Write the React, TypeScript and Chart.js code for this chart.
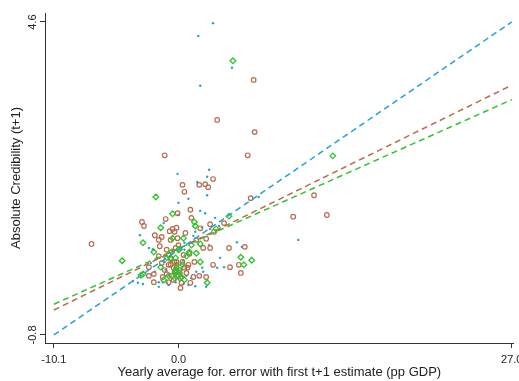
import React, { useEffect, useRef } from "react";
import { Chart, registerables } from "chart.js";

Chart.register(...registerables);

// Series 1: small blue dots
const blueX = [2.80, 1.60, 4.33, 1.76, -0.08, 2.48, 2.32, 1.52, 2.32, 0.80, 0.00, 1.76, 2.16, 0.00, -1.20, 6.49, 9.70, 4.73, 5.13, -3.13, -2.40, -2.08, -1.76, -1.92, -1.60, -1.28, -3.29, -3.69, -0.24, -2.24, 2.96, 2.56, 3.29, 1.36, 1.20, 2.48, 3.37, 3.69, 0.40, 1.92, 2.00, 1.44, 1.36, 3.13, -2.88, -0.96, 1.92, 3.04, -0.64, 0.24, 0.64, -0.40, 0.80, -1.04, 2.24, 0.48, -0.80, 0.40, -1.60, 1.04, -1.12, 0.48];
const blueY = [4.58, 4.36, 3.81, 3.50, 1.98, 2.05, 1.93, 1.84, 1.61, 1.55, 1.48, 1.34, 1.30, 1.27, 1.13, 1.58, 0.84, 0.80, 0.72, 0.92, 0.70, 0.68, 0.53, 0.29, 0.11, 0.11, 0.10, 0.13, 0.11, 0.44, 1.22, 1.03, 1.08, 0.98, 0.91, 0.75, 0.53, 0.37, 0.49, 0.36, 0.29, 0.29, 0.04, 0.36, 0.08, 0.10, 1.06, 0.98, 0.46, 0.32, 0.22, 0.67, 0.06, 0.32, 0.03, 0.79, 0.06, 0.08, 0.03, 0.18, 0.46, 0.67];

// Series 2: hollow brown circles
const brownX = [6.09, 3.13, 6.17, -1.12, 5.61, 0.32, 1.68, 2.16, 2.40, 2.80, 0.48, 5.85, 10.98, 9.29, 12.02, 5.37, -7.05, -2.96, -2.80, -1.92, -1.04, -0.08, -1.36, -0.72, -0.48, -0.32, -1.52, -1.60, -2.40, -2.00, -2.40, -2.00, -1.28, -1.12, -1.36, -0.80, -0.64, -0.16, -0.40, 0.16, -0.80, -0.08, 0.00, 0.96, 1.04, 2.56, 1.76, 2.88, 0.56, -0.16, 2.24, 4.09, 2.00, -0.24, 0.88, 0.80, -0.16, 4.17, 4.89, 5.05, 2.24, 1.68, 1.20, 0.64, 0.24, 0.16, 0.72, 3.69, 2.56, -0.64, -0.96, 0.40, -0.32, 0.96, -1.60, 1.28, 1.44, -0.80, 2.80, -0.64, -0.40, -0.16, 0.00, -0.56, 0.08, -0.32, 0.32, -0.96, 0.48];
const brownY = [3.60, 2.91, 2.70, 2.30, 2.30, 1.79, 1.79, 1.80, 1.75, 1.89, 1.67, 1.56, 1.61, 1.24, 1.27, 0.72, 0.77, 1.15, 1.08, 0.92, 1.20, 1.30, 0.89, 0.99, 1.03, 0.98, 0.73, 0.56, 0.37, 0.25, 0.22, 0.11, 0.20, 0.32, 0.44, 0.58, 0.51, 0.41, 0.15, 0.01, 0.11, 0.87, 0.75, 1.36, 1.22, 1.11, 1.04, 0.98, 0.96, 1.05, 0.86, 0.70, 0.70, 0.70, 0.60, 0.41, 0.46, 0.37, 0.41, 0.27, 0.20, 0.22, 0.20, 0.27, 0.10, 0.18, 0.36, 1.13, 0.70, 0.84, 0.67, 0.58, 0.29, 0.10, 0.84, 0.46, 0.84, 0.41, 0.41, 0.41, 0.36, 0.29, 0.23, 0.22, 0.32, 0.46, 0.46, 0.25, 0.36];

// Series 3: hollow green diamonds
const greenX = [4.41, 12.50, -1.84, -0.48, 1.28, 1.36, 4.09, -4.57, -2.88, -1.44, -0.48, -2.00, -1.44, -2.88, -0.56, -0.24, 0.00, -0.24, 3.04, 0.40, 1.04, 1.76, 0.08, 0.88, 1.44, 5.05, 5.93, 1.76, 5.29, 2.32, -0.24, -0.08, -3.04, 0.32, -0.80, 0.48, -1.20, -0.16, 0.08, -0.32, 0.24, -0.64, 0.64, -0.96];
const greenY = [3.93, 2.29, 1.58, 1.29, 1.15, 1.08, 1.25, 0.48, 0.79, 1.05, 0.87, 0.63, 0.37, 0.25, 0.63, 0.27, 0.67, 0.53, 1.03, 0.87, 0.75, 0.77, 0.68, 0.63, 0.61, 0.54, 0.49, 0.46, 0.41, 0.10, 0.32, 0.22, 0.23, 0.41, 0.22, 0.15, 0.15, 0.36, 0.27, 0.18, 0.20, 0.53, 0.56, 0.53];

// Fitted lines (endpoints)
const fitX = [-10.1, 27];
const blueFit = [-0.8, 4.6];
const brownFit = [-0.37, 3.51];
const greenFit = [-0.27, 3.26];

// Axis ticks
const xTicks = [-10.1, 0, 27];
const yTicks = [-0.8, 4.6];

const BLUE = "rgb(38,160,214)";
const BROWN = "rgb(184,108,76)";
const GREEN = "rgb(46,196,46)";
const AXIS = "#333333";
const TEXT = "#222222";
const FONT = "'Liberation Sans', Arial, sans-serif";

const pts = (xs: number[], ys: number[]) => xs.map((x, i) => ({ x, y: ys[i] }));

export default function App() {
  const ref = useRef<HTMLCanvasElement | null>(null);

  useEffect(() => {
    if (!ref.current) return;
    const lineDs = (data: number[], color: string) => ({
      data: pts(fitX, data),
      showLine: true,
      borderColor: color,
      borderWidth: 1.5,
      borderDash: [6, 4],
      pointRadius: 0,
      fill: false,
    });
    const chart = new Chart(ref.current, {
      type: "scatter",
      data: {
        datasets: [
          lineDs(blueFit, BLUE),
          lineDs(brownFit, BROWN),
          lineDs(greenFit, GREEN),
          {
            data: pts(greenX, greenY),
            pointStyle: "rectRot",
            pointRadius: 2.8,
            borderWidth: 1.3,
            borderColor: GREEN,
            backgroundColor: "rgba(255,255,255,0)",
          },
          {
            data: pts(brownX, brownY),
            pointStyle: "circle",
            pointRadius: 2.3,
            borderWidth: 1.2,
            borderColor: BROWN,
            backgroundColor: "rgba(255,255,255,0)",
          },
          {
            data: pts(blueX, blueY),
            pointStyle: "circle",
            pointRadius: 1.2,
            borderWidth: 0,
            backgroundColor: BLUE,
          },
        ],
      },
      options: {
        animation: false,
        responsive: false,
        layout: { padding: { top: 13, right: 0, left: 0, bottom: 0 } },
        plugins: { legend: { display: false }, tooltip: { enabled: false } },
        scales: {
          x: {
            type: "linear",
            min: -10.82,
            max: 27.16,
            afterBuildTicks: (s: any) => {
              s.ticks = xTicks.map((v) => ({ value: v }));
            },
            afterFit: (s: any) => {
              s.height = 38;
              s.paddingLeft = 0;
              s.paddingRight = 0;
            },
            grid: { drawOnChartArea: false, drawTicks: true, tickLength: 5, tickColor: AXIS, tickWidth: 1 },
            border: { display: true, color: AXIS, width: 1 },
            ticks: {
              autoSkip: false,
              maxRotation: 0,
              minRotation: 0,
              padding: 5,
              color: TEXT,
              font: { family: FONT, size: 11 },
              callback: (v: any) => Number(v).toFixed(1),
            },
            title: {
              display: true,
              text: "Yearly average for. error with first t+1 estimate (pp GDP)",
              color: TEXT,
              font: { family: FONT, size: 13 },
              padding: { top: 0, bottom: 1 },
            },
          },
          y: {
            type: "linear",
            min: -0.939,
            max: 4.755,
            afterBuildTicks: (s: any) => {
              s.ticks = yTicks.map((v) => ({ value: v }));
            },
            afterFit: (s: any) => {
              s.width = 45;
              s.paddingTop = 0;
              s.paddingBottom = 0;
            },
            grid: { drawOnChartArea: false, drawTicks: true, tickLength: 5, tickColor: AXIS, tickWidth: 1 },
            border: { display: true, color: AXIS, width: 1 },
            ticks: {
              autoSkip: false,
              minRotation: 90,
              maxRotation: 90,
              crossAlign: "center",
              padding: -2,
              color: TEXT,
              font: { family: FONT, size: 11 },
              callback: (v: any) => Number(v).toFixed(1),
            },
            title: {
              display: true,
              text: "Absolute Credibility (t+1)",
              color: TEXT,
              font: { family: FONT, size: 13 },
              padding: { top: 9, bottom: 0 },
            },
          },
        },
      },
    } as any);
    return () => chart.destroy();
  }, []);

  return (
    <canvas
      ref={ref}
      width={519}
      height={381}
      style={{ position: "fixed", left: 0, top: 0, width: 519, height: 381, background: "#fff" }}
    />
  );
}
